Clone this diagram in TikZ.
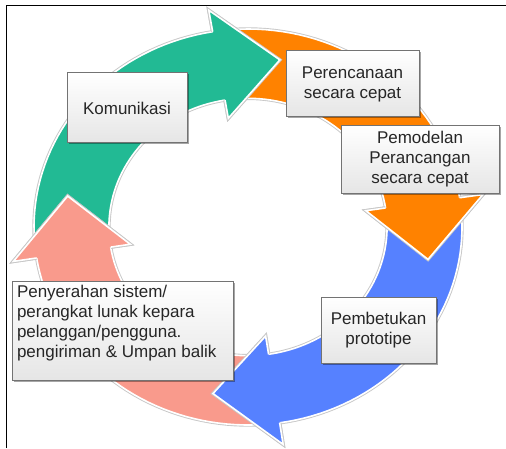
\documentclass[tikz,border=0pt]{standalone}
\usepackage{fontspec}
\setmainfont{Liberation Sans}
\usetikzlibrary{shadows}

\definecolor{ringgreen}{HTML}{22BA94}
\definecolor{ringorange}{HTML}{FF8200}
\definecolor{ringblue}{HTML}{5681FF}
\definecolor{ringpink}{HTML}{F99A8C}

\begin{document}
\begin{tikzpicture}[x=1pt, y=1pt,
		stage/.style={draw=black!55, line width=1pt, top color=white, bottom color=black!10,
			drop shadow={shadow xshift=1.5pt, shadow yshift=-1.5pt, opacity=0.35, fill=black},
			text=black!85, font=\fontsize{17}{20}\selectfont, align=center, inner sep=0pt},
		ringshade/.style={draw=black!22, line width=3.4pt},
		ringline/.style={draw=white, line width=1.6pt}]
	\useasboundingbox (0, 0) rectangle (506, 448);
	\draw[line width=1.5pt] (6.5, 0) |- (506, 442.5);

	% the four arrows of the cycle: colour / tail / head base / tip
	\begin{scope}[shift={(248, 221)}, x=214pt, y=198pt]
		\foreach \col/\tl/\bs/\tp in {ringgreen/186/99.5/80, ringorange/96.5/8.5/-11, ringblue/5.5/-81.5/-101, ringpink/275.5/189/169.5}
		{
			\draw[ringshade] plot[domain=\tl:\bs, samples=40] (\x:1) -- (\bs:1.11) -- (\tp:0.857) -- (\bs:0.557) -- (\bs:0.65) -- plot[domain=\bs:\tl, samples=40] (\x:0.65) -- cycle;
			\filldraw[ringline, fill=\col] plot[domain=\tl:\bs, samples=40] (\x:1) -- (\bs:1.11) -- (\tp:0.857) -- (\bs:0.557) -- (\bs:0.65) -- plot[domain=\bs:\tl, samples=40] (\x:0.65) -- cycle;
		}
		% heads again, on top of the next tail
		\foreach \col/\bs/\tp in {ringgreen/99.5/80, ringorange/8.5/-11, ringblue/-81.5/-101, ringpink/189/169.5}
		{
			\draw[ringshade] (\bs:1) -- (\bs:1.11) -- (\tp:0.857) -- (\bs:0.557) -- (\bs:0.65);
			\fill[\col] (\bs:0.98) -- (\bs:1.11) -- (\tp:0.857) -- (\bs:0.557) -- (\bs:0.67) -- cycle;
			\draw[ringline] (\bs:1) -- (\bs:1.11) -- (\tp:0.857) -- (\bs:0.557) -- (\bs:0.65);
		}
	\end{scope}

	\draw (127, 340) 	node[stage, minimum width=120, minimum height=70] 	(komunikasi) 	{Komunikasi};
	\draw (352.5, 364) 	node[stage, minimum width=133, minimum height=66] 	(perencanaan) 	{Perencanaan\\secara cepat};
	\draw (420, 288.5) 	node[stage, minimum width=158, minimum height=67] 	(pemodelan) 	{Pemodelan\\Perancangan\\secara cepat};
	\draw (378.5, 118) 	node[stage, minimum width=115, minimum height=66] 	(pembetukan) 	{Pembetukan\\prototipe};
	\draw (122.5, 117.5) 	node[stage, minimum width=221, minimum height=99] 	(penyerahan) 	{\parbox[c][90pt][t]{211pt}{\raggedright Penyerahan sistem/\\perangkat lunak kepara\\pelanggan/pengguna.\\pengiriman \& Umpan balik}};
\end{tikzpicture}
\end{document}
